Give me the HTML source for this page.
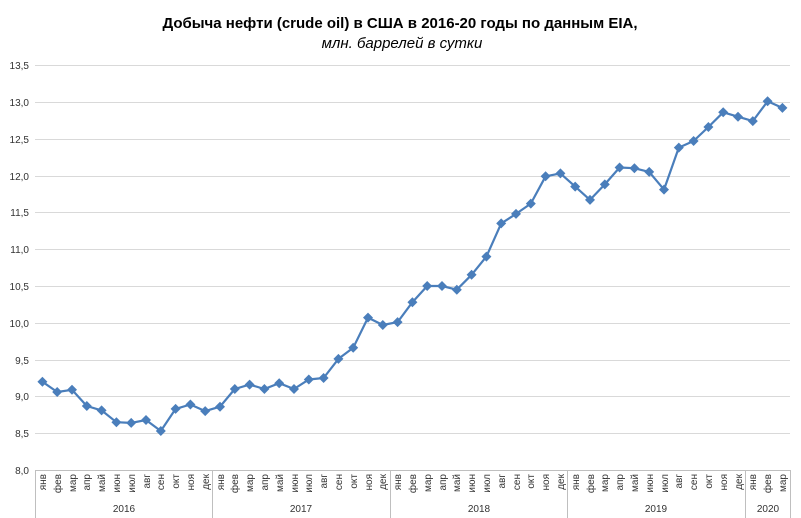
<!DOCTYPE html>
<html><head><meta charset="utf-8"><style>
body{margin:0;background:#fff}
svg{display:block;font-family:"Liberation Sans",sans-serif}
</style></head><body>
<svg width="801" height="518" viewBox="0 0 801 518" xmlns="http://www.w3.org/2000/svg">
<defs><path id="d" d="M0,-5 L5,0 L0,5 L-5,0Z" fill="#4a7ebb"/></defs>
<rect width="801" height="518" fill="#fff"/>
<text x="400" y="28" text-anchor="middle" font-size="15" font-weight="bold">Добыча  нефти (crude oil) в США в 2016-20 годы по данным  EIA,</text>
<text x="402" y="48" text-anchor="middle" font-size="15" font-style="italic">млн. баррелей в сутки</text>
<g stroke="#d9d9d9" stroke-width="1">
<line x1="35" x2="790" y1="65.5" y2="65.5"/><line x1="35" x2="790" y1="102.5" y2="102.5"/><line x1="35" x2="790" y1="139.5" y2="139.5"/><line x1="35" x2="790" y1="176.5" y2="176.5"/><line x1="35" x2="790" y1="212.5" y2="212.5"/><line x1="35" x2="790" y1="249.5" y2="249.5"/><line x1="35" x2="790" y1="286.5" y2="286.5"/><line x1="35" x2="790" y1="323.5" y2="323.5"/><line x1="35" x2="790" y1="360.5" y2="360.5"/><line x1="35" x2="790" y1="396.5" y2="396.5"/><line x1="35" x2="790" y1="433.5" y2="433.5"/>
</g>
<g font-size="10" text-anchor="end" fill="#333">
<text x="29" y="69">13,5</text><text x="29" y="106">13,0</text><text x="29" y="143">12,5</text><text x="29" y="180">12,0</text><text x="29" y="216">11,5</text><text x="29" y="253">11,0</text><text x="29" y="290">10,5</text><text x="29" y="327">10,0</text><text x="29" y="364">9,5</text><text x="29" y="400">9,0</text><text x="29" y="437">8,5</text><text x="29" y="474">8,0</text>
</g>
<g stroke="#bfbfbf" stroke-width="1">
<line x1="35" x2="790" y1="470.5" y2="470.5"/>
<line x1="35.5" x2="35.5" y1="470" y2="518"/>
<line x1="212.5" x2="212.5" y1="470" y2="518"/>
<line x1="390.5" x2="390.5" y1="470" y2="518"/>
<line x1="567.5" x2="567.5" y1="470" y2="518"/>
<line x1="745.5" x2="745.5" y1="470" y2="518"/>
<line x1="790.5" x2="790.5" y1="470" y2="518"/>
</g>
<g font-size="10" fill="#333" text-anchor="middle">
<text x="124" y="512">2016</text><text x="301" y="512">2017</text><text x="479" y="512">2018</text><text x="656" y="512">2019</text><text x="768" y="512">2020</text>
</g>
<g font-size="10" fill="#333" text-anchor="end">
<text transform="translate(46,474) rotate(-90)">янв</text><text transform="translate(61,474) rotate(-90)">фев</text><text transform="translate(76,474) rotate(-90)">мар</text><text transform="translate(90,474) rotate(-90)">апр</text><text transform="translate(105,474) rotate(-90)">май</text><text transform="translate(120,474) rotate(-90)">июн</text><text transform="translate(135,474) rotate(-90)">июл</text><text transform="translate(150,474) rotate(-90)">авг</text><text transform="translate(164,474) rotate(-90)">сен</text><text transform="translate(179,474) rotate(-90)">окт</text><text transform="translate(194,474) rotate(-90)">ноя</text><text transform="translate(209,474) rotate(-90)">дек</text>
<text transform="translate(224,474) rotate(-90)">янв</text><text transform="translate(238,474) rotate(-90)">фев</text><text transform="translate(253,474) rotate(-90)">мар</text><text transform="translate(268,474) rotate(-90)">апр</text><text transform="translate(283,474) rotate(-90)">май</text><text transform="translate(298,474) rotate(-90)">июн</text><text transform="translate(312,474) rotate(-90)">июл</text><text transform="translate(327,474) rotate(-90)">авг</text><text transform="translate(342,474) rotate(-90)">сен</text><text transform="translate(357,474) rotate(-90)">окт</text><text transform="translate(372,474) rotate(-90)">ноя</text><text transform="translate(386,474) rotate(-90)">дек</text>
<text transform="translate(401,474) rotate(-90)">янв</text><text transform="translate(416,474) rotate(-90)">фев</text><text transform="translate(431,474) rotate(-90)">мар</text><text transform="translate(446,474) rotate(-90)">апр</text><text transform="translate(460,474) rotate(-90)">май</text><text transform="translate(475,474) rotate(-90)">июн</text><text transform="translate(490,474) rotate(-90)">июл</text><text transform="translate(505,474) rotate(-90)">авг</text><text transform="translate(520,474) rotate(-90)">сен</text><text transform="translate(534,474) rotate(-90)">окт</text><text transform="translate(549,474) rotate(-90)">ноя</text><text transform="translate(564,474) rotate(-90)">дек</text>
<text transform="translate(579,474) rotate(-90)">янв</text><text transform="translate(594,474) rotate(-90)">фев</text><text transform="translate(608,474) rotate(-90)">мар</text><text transform="translate(623,474) rotate(-90)">апр</text><text transform="translate(638,474) rotate(-90)">май</text><text transform="translate(653,474) rotate(-90)">июн</text><text transform="translate(668,474) rotate(-90)">июл</text><text transform="translate(682,474) rotate(-90)">авг</text><text transform="translate(697,474) rotate(-90)">сен</text><text transform="translate(712,474) rotate(-90)">окт</text><text transform="translate(727,474) rotate(-90)">ноя</text><text transform="translate(742,474) rotate(-90)">дек</text>
<text transform="translate(756,474) rotate(-90)">янв</text><text transform="translate(771,474) rotate(-90)">фев</text><text transform="translate(786,474) rotate(-90)">мар</text>
</g>
<polyline fill="none" stroke="#4a7ebb" stroke-width="2.2" stroke-linejoin="round" points="42.4,381.7 57.2,392 72,389.8 86.8,406 101.6,410.4 116.4,422.2 131.2,422.9 146,420 160.8,431 175.6,408.9 190.4,404.5 205.2,411.1 220,406.7 234.8,389 249.6,384.6 264.4,389 279.2,383.2 294,389 308.8,379.5 323.6,378 338.4,358.9 353.2,347.8 368,317.6 382.8,325 397.6,322.1 412.4,302.2 427.2,286 442,286 456.8,289.7 471.6,274.8 486.4,256.6 501.2,223.4 516,213.9 530.8,203.6 545.6,176.3 560.4,173.4 575.2,186.6 590,199.9 604.8,184.4 619.6,167.5 634.4,168.2 649.2,171.9 664,189.6 678.8,147.6 693.6,141 708.4,127 723.2,112.3 738,116.7 752.8,121.1 767.6,101.3 782.4,107.9"/>
<g>
<use href="#d" x="42.4" y="381.7"/><use href="#d" x="57.2" y="392"/><use href="#d" x="72" y="389.8"/><use href="#d" x="86.8" y="406"/><use href="#d" x="101.6" y="410.4"/><use href="#d" x="116.4" y="422.2"/><use href="#d" x="131.2" y="422.9"/><use href="#d" x="146" y="420"/><use href="#d" x="160.8" y="431"/><use href="#d" x="175.6" y="408.9"/><use href="#d" x="190.4" y="404.5"/><use href="#d" x="205.2" y="411.1"/>
<use href="#d" x="220" y="406.7"/><use href="#d" x="234.8" y="389"/><use href="#d" x="249.6" y="384.6"/><use href="#d" x="264.4" y="389"/><use href="#d" x="279.2" y="383.2"/><use href="#d" x="294" y="389"/><use href="#d" x="308.8" y="379.5"/><use href="#d" x="323.6" y="378"/><use href="#d" x="338.4" y="358.9"/><use href="#d" x="353.2" y="347.8"/><use href="#d" x="368" y="317.6"/><use href="#d" x="382.8" y="325"/>
<use href="#d" x="397.6" y="322.1"/><use href="#d" x="412.4" y="302.2"/><use href="#d" x="427.2" y="286"/><use href="#d" x="442" y="286"/><use href="#d" x="456.8" y="289.7"/><use href="#d" x="471.6" y="274.8"/><use href="#d" x="486.4" y="256.6"/><use href="#d" x="501.2" y="223.4"/><use href="#d" x="516" y="213.9"/><use href="#d" x="530.8" y="203.6"/><use href="#d" x="545.6" y="176.3"/><use href="#d" x="560.4" y="173.4"/>
<use href="#d" x="575.2" y="186.6"/><use href="#d" x="590" y="199.9"/><use href="#d" x="604.8" y="184.4"/><use href="#d" x="619.6" y="167.5"/><use href="#d" x="634.4" y="168.2"/><use href="#d" x="649.2" y="171.9"/><use href="#d" x="664" y="189.6"/><use href="#d" x="678.8" y="147.6"/><use href="#d" x="693.6" y="141"/><use href="#d" x="708.4" y="127"/><use href="#d" x="723.2" y="112.3"/><use href="#d" x="738" y="116.7"/>
<use href="#d" x="752.8" y="121.1"/><use href="#d" x="767.6" y="101.3"/><use href="#d" x="782.4" y="107.9"/>
</g>
</svg>
</body></html>
